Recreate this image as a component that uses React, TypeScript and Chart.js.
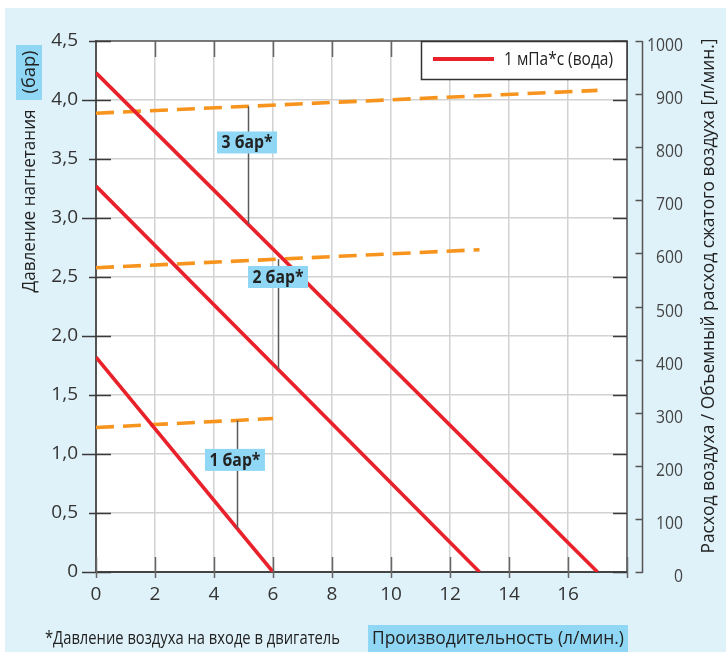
import React, { useEffect, useRef } from 'react';
import { Chart, registerables } from 'chart.js';

Chart.register(...registerables);

// ---------- data ----------
const xTickValues = [0, 2, 4, 6, 8, 10, 12, 14, 16, 18];
const pressureTickValues = [0, 0.5, 1, 1.5, 2, 2.5, 3, 3.5, 4, 4.5];
const airTickValues = [0, 100, 200, 300, 400, 500, 600, 700, 800, 900, 1000];

// pump performance (left axis, бар) at 1 мПа*с (вода)
const flow3 = [0, 17];
const pressure3 = [4.23, 0];
const flow2 = [0, 13];
const pressure2 = [3.27, 0];
const flow1 = [0, 6];
const pressure1 = [1.82, 0];

// air consumption (right axis, л/мин.)
const airFlow3 = [0, 17];
const air3 = [864, 907];
const airFlow2 = [0, 13];
const air2 = [573, 607];
const airFlow1 = [0, 6];
const air1 = [272, 289];

// inlet air pressure markers
const markerLabels = ['3 бар*', '2 бар*', '1 бар*'];
const markerX = [5.15, 6.17, 4.78];
const markerLabelX = [5.12, 6.17, 4.71];
const markerLabelY = [3.64, 2.5, 0.95];

const legendLabel = '1 мПа*с (вода)';
const yTitle = 'Давление нагнетания';
const yUnit = '(бар)';
const y2Title = 'Расход воздуха / Объемный расход сжатого воздуха [л/мин.]';
const xTitle = 'Производительность (л/мин.)';
const footNote = '*Давление воздуха на входе в двигатель';

// ---------- styles ----------
const W = 726;
const H = 652;
const BG = '#dff2fa';
const HILITE = '#8fd7f4';
const RED = '#e8212b';
const ORANGE = '#f7941e';
const GRID = '#d2d2d2';
const DARK = '#3a3a3a';
const FONT = "'Open Sans', 'Noto Sans', 'DejaVu Sans', sans-serif";

const toPts = (xs: number[], ys: number[]) => xs.map((x, i) => ({ x, y: ys[i] }));

const interp = (xs: number[], ys: number[], x: number) => {
  for (let i = 0; i < xs.length - 1; i++) {
    if (x >= xs[i] && x <= xs[i + 1]) {
      const t = (x - xs[i]) / (xs[i + 1] - xs[i]);
      return ys[i] + t * (ys[i + 1] - ys[i]);
    }
  }
  return ys[ys.length - 1];
};

const redSeries = [
  [flow3, pressure3],
  [flow2, pressure2],
  [flow1, pressure1],
];
const airSeries = [
  [airFlow3, air3],
  [airFlow2, air2],
  [airFlow1, air1],
];

const decoPlugin = {
  id: 'deco',
  beforeDraw(chart: any) {
    const { ctx, chartArea: a } = chart;
    ctx.save();
    ctx.fillStyle = '#ffffff';
    ctx.fillRect(0, 0, W, H);
    ctx.fillStyle = BG;
    ctx.fillRect(5, 8, W - 5, H - 8);
    ctx.fillStyle = '#ffffff';
    ctx.fillRect(a.left, a.top, a.right - a.left, a.bottom - a.top);
    ctx.restore();
  },
  afterDatasetsDraw(chart: any) {
    const { ctx } = chart;
    const xs = chart.scales.x;
    const ys = chart.scales.y;
    const y2 = chart.scales.y2;
    ctx.save();
    // marker lines
    ctx.strokeStyle = '#5a5a5a';
    ctx.lineWidth = 1.5;
    markerX.forEach((mx, i) => {
      const px = Math.round(xs.getPixelForValue(mx)) + 0.5;
      const top = y2.getPixelForValue(interp(airSeries[i][0], airSeries[i][1], mx));
      const bottom = ys.getPixelForValue(interp(redSeries[i][0], redSeries[i][1], mx));
      ctx.beginPath();
      ctx.moveTo(px, top);
      ctx.lineTo(px, bottom);
      ctx.stroke();
    });
    // marker labels
    ctx.font = `bold 17px ${FONT}`;
    ctx.textAlign = 'center';
    ctx.textBaseline = 'middle';
    markerLabels.forEach((lbl, i) => {
      const cx = xs.getPixelForValue(markerLabelX[i]);
      const cy = ys.getPixelForValue(markerLabelY[i]);
      ctx.fillStyle = HILITE;
      ctx.fillRect(cx - 30, cy - 11, 60, 22);
      ctx.fillStyle = '#222';
      ctx.fillText(lbl, cx, cy + 1, 51);
    });
    ctx.restore();
  },
  afterDraw(chart: any) {
    const { ctx, chartArea: a } = chart;
    const xs = chart.scales.x;
    const ys = chart.scales.y;
    const y2 = chart.scales.y2;
    ctx.save();

    // top & right frame
    ctx.strokeStyle = '#555';
    ctx.lineWidth = 1.5;
    ctx.beginPath();
    ctx.moveTo(a.left, a.top);
    ctx.lineTo(a.right, a.top);
    ctx.lineTo(a.right, a.bottom);
    ctx.stroke();

    // tick marks
    ctx.strokeStyle = DARK;
    ctx.lineWidth = 1.5;
    pressureTickValues.forEach((v) => {
      const py = Math.round(ys.getPixelForValue(v)) + 0.5;
      const major = Math.abs(v - Math.round(v)) < 1e-6;
      ctx.beginPath();
      ctx.moveTo(a.left - (major ? 14 : 7), py);
      ctx.lineTo(a.left + 15, py);
      ctx.moveTo(a.right - 14, py);
      ctx.lineTo(a.right, py);
      ctx.stroke();
    });
    ctx.strokeStyle = '#666';
    xTickValues.forEach((v) => {
      const px = Math.round(xs.getPixelForValue(v)) + 0.5;
      ctx.beginPath();
      if (v > 0 && v < 18) {
        ctx.moveTo(px, a.top);
        ctx.lineTo(px, a.top + 16);
      }
      ctx.moveTo(px, a.bottom - 15);
      ctx.lineTo(px, a.bottom + 6);
      ctx.stroke();
    });

    // right (air) axis
    const axX = a.right + 15.5;
    ctx.strokeStyle = '#555';
    ctx.lineWidth = 1.5;
    ctx.beginPath();
    ctx.moveTo(axX, y2.getPixelForValue(1000));
    ctx.lineTo(axX, y2.getPixelForValue(0) + 1);
    ctx.stroke();
    ctx.font = `19px ${FONT}`;
    ctx.fillStyle = '#444';
    ctx.textAlign = 'right';
    ctx.textBaseline = 'middle';
    airTickValues.forEach((v) => {
      const py = Math.round(y2.getPixelForValue(v)) + 0.5;
      ctx.beginPath();
      ctx.moveTo(axX - 7, py);
      ctx.lineTo(axX, py);
      ctx.stroke();
      const label = String(v);
      ctx.fillText(label, 683, py + 4, label.length * 9);
    });

    // legend
    ctx.fillStyle = '#ffffff';
    ctx.fillRect(421, a.top, a.right - 421, 38);
    ctx.strokeStyle = '#333';
    ctx.lineWidth = 1.5;
    ctx.strokeRect(421.5, a.top + 0.5, a.right - 421.5, 38);
    ctx.strokeStyle = RED;
    ctx.lineWidth = 4;
    ctx.beginPath();
    ctx.moveTo(433, a.top + 18);
    ctx.lineTo(494, a.top + 18);
    ctx.stroke();
    ctx.fillStyle = '#222';
    ctx.textAlign = 'left';
    ctx.font = `19px ${FONT}`;
    ctx.fillText(legendLabel, 504, a.top + 19, 109);

    // left title (rotated)
    ctx.save();
    ctx.translate(29, 0);
    ctx.rotate(-Math.PI / 2);
    ctx.fillStyle = HILITE;
    ctx.fillRect(-100, -13, 55, 26);
    ctx.fillStyle = '#222';
    ctx.textAlign = 'center';
    ctx.textBaseline = 'middle';
    ctx.font = `19px ${FONT}`;
    ctx.fillText(yUnit, -72, 1, 43);
    ctx.fillText(yTitle, -201, 1, 183);
    ctx.restore();

    // right title (rotated)
    ctx.save();
    ctx.translate(708, 296);
    ctx.rotate(-Math.PI / 2);
    ctx.fillStyle = '#222';
    ctx.textAlign = 'center';
    ctx.textBaseline = 'middle';
    ctx.font = `19px ${FONT}`;
    ctx.fillText(y2Title, 0, 1, 515);
    ctx.restore();

    // footer
    ctx.fillStyle = '#222';
    ctx.textAlign = 'left';
    ctx.textBaseline = 'middle';
    ctx.font = `18px ${FONT}`;
    ctx.fillText(footNote, 45, 639, 295);
    ctx.fillStyle = HILITE;
    ctx.fillRect(368, 625, 260, 27);
    ctx.fillStyle = '#222';
    ctx.font = `19px ${FONT}`;
    ctx.fillText(xTitle, 372, 639, 252);

    ctx.restore();
  },
};

export default function App() {
  const ref = useRef<HTMLCanvasElement | null>(null);

  useEffect(() => {
    document.body.style.margin = '0';
    const canvas = ref.current;
    if (!canvas) return;

    const lineDs = (label: string, xsArr: number[], ysArr: number[], axis: string, color: string, dashed: boolean) => ({
      label,
      data: toPts(xsArr, ysArr),
      yAxisID: axis,
      borderColor: color,
      backgroundColor: color,
      borderWidth: dashed ? 3.6 : 3.6,
      borderDash: dashed ? [18, 9] : [],
      borderCapStyle: 'butt' as const,
      pointRadius: 0,
      fill: false,
      tension: 0,
    });

    const chart = new Chart(canvas, {
      type: 'line',
      data: {
        datasets: [
          lineDs(legendLabel + ' 3 бар', flow3, pressure3, 'y', RED, false),
          lineDs(legendLabel + ' 2 бар', flow2, pressure2, 'y', RED, false),
          lineDs(legendLabel + ' 1 бар', flow1, pressure1, 'y', RED, false),
          lineDs('Расход воздуха 3 бар', airFlow3, air3, 'y2', ORANGE, true),
          lineDs('Расход воздуха 2 бар', airFlow2, air2, 'y2', ORANGE, true),
          lineDs('Расход воздуха 1 бар', airFlow1, air1, 'y2', ORANGE, true),
        ],
      },
      options: {
        responsive: false,
        animation: false,
        events: [],
        layout: { padding: { top: 41, left: 0, right: 0, bottom: 0 } },
        plugins: {
          legend: { display: false },
          tooltip: { enabled: false },
          title: { display: false },
        },
        scales: {
          x: {
            type: 'linear',
            min: 0,
            max: 18,
            afterFit: (s: any) => {
              s.height = 80;
            },
            afterBuildTicks: (s: any) => {
              s.ticks = xTickValues.map((v) => ({ value: v }));
            },
            ticks: {
              padding: 11,
              color: '#333',
              font: { family: FONT, size: 19 },
              maxRotation: 0,
              callback: (v: any) => (Number(v) === 18 ? '' : String(v)),
            },
            grid: { color: GRID, lineWidth: 1.5, drawTicks: false },
            border: { display: true, color: '#444', width: 2 },
          },
          y: {
            type: 'linear',
            position: 'left',
            min: 0,
            max: 4.5,
            afterFit: (s: any) => {
              s.width = 96;
            },
            afterBuildTicks: (s: any) => {
              s.ticks = pressureTickValues.map((v) => ({ value: v }));
            },
            ticks: {
              padding: 18,
              color: '#333',
              font: { family: FONT, size: 19 },
              callback: (v: any) => (Number(v) === 0 ? '0' : Number(v).toFixed(1).replace('.', ',')),
            },
            grid: { color: GRID, lineWidth: 1.5, drawTicks: false },
            border: { display: true, color: '#555', width: 2 },
          },
          y2: {
            type: 'linear',
            position: 'right',
            min: 0,
            max: 1000,
            afterFit: (s: any) => {
              s.width = 99;
            },
            ticks: { display: false, stepSize: 100 },
            grid: { display: false, drawOnChartArea: false },
            border: { display: false },
          },
        },
      } as any,
      plugins: [decoPlugin],
    });

    return () => {
      chart.destroy();
    };
  }, []);

  return (
    <div style={{ width: W, height: H }}>
      <canvas ref={ref} width={W} height={H} style={{ display: 'block', width: W, height: H }} />
    </div>
  );
}
